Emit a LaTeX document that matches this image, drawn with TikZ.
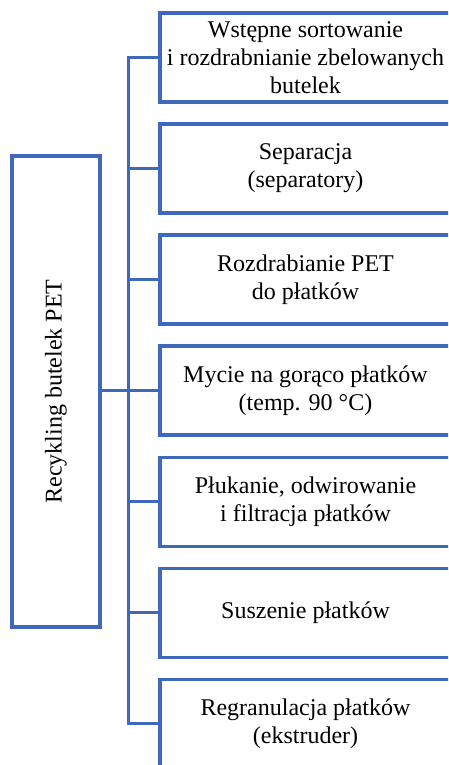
\documentclass[tikz,border=0pt]{standalone}
\usepackage{fontspec}
\setmainfont{Liberation Serif}
\definecolor{boxblue}{RGB}{62,104,188}
\begin{document}
\begin{tikzpicture}[x=1pt,y=1pt,
  every node/.style={font=\fontsize{24}{28}\selectfont},
  stepbox/.style={draw=boxblue, line width=3.2pt, minimum width=291pt, minimum height=89pt, align=center, inner sep=0pt, text=black},
  mainbox/.style={draw=boxblue, line width=3.2pt, minimum width=88pt, minimum height=471pt, inner sep=0pt, text=black},
  link/.style={draw=boxblue, line width=3pt}]
\useasboundingbox (0,0) rectangle (448,765);
\clip (0,0) rectangle (448,765);
\node[mainbox] (main) at (56,373.5) {\rotatebox{90}{Recykling butelek PET}};
\node[stepbox] (b1) at (305.5,707.5) {Wstępne sortowanie\\i rozdrabnianie zbelowanych\\butelek};
\node[stepbox] (b2) at (305.5,596.5) {Separacja\\(separatory)};
\node[stepbox] (b3) at (305.5,485.5) {Rozdrabianie PET\\do płatków};
\node[stepbox] (b4) at (305.5,374.5) {Mycie na gorąco płatków\\(temp. 90 °C)};
\node[stepbox] (b5) at (305.5,263) {Płukanie, odwirowanie\\i filtracja płatków};
\node[stepbox] (b6) at (305.5,152) {Suszenie płatków};
\node[stepbox] (b7) at (305.5,41) {Regranulacja płatków\\(ekstruder)};
\draw[link] (b1.west) -- ++(-30,0) |- (b7.west);
\draw[link] (main.east |- b4.west) -- (b4.west);
\draw[link] (b2.west) -- ++(-30,0);
\draw[link] (b3.west) -- ++(-30,0);
\draw[link] (b5.west) -- ++(-30,0);
\draw[link] (b6.west) -- ++(-30,0);
\end{tikzpicture}
\end{document}
